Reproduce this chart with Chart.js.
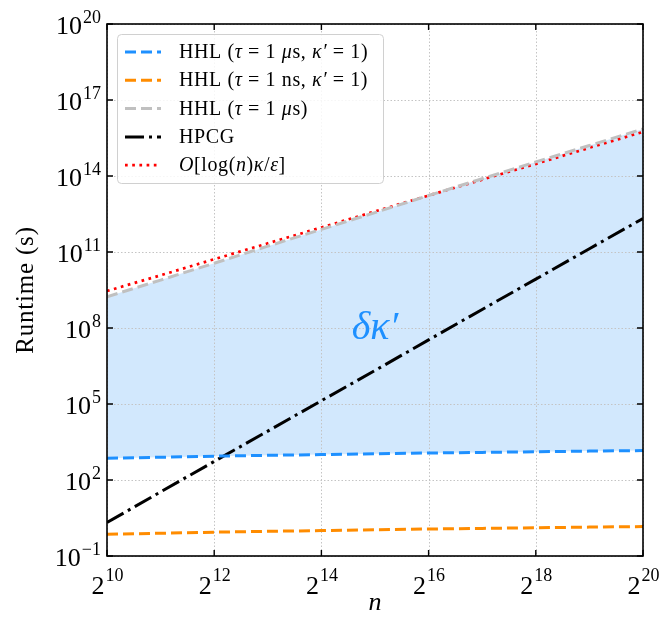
<!DOCTYPE html>
<html>
<head>
<meta charset="utf-8">
<script src="https://cdn.jsdelivr.net/npm/chart.js@4/dist/chart.umd.min.js"></script>
<style>
  html, body { margin: 0; padding: 0; background: #fff; }
  canvas { display: block; }
</style>
</head>
<body>
<canvas id="runtimeChart" width="662" height="618"></canvas>
<script>
// problem size n = 2^10 ... 2^20
const nValues = [1024, 2048, 4096, 8192, 16384, 32768, 65536, 131072, 262144, 524288, 1048576];

// runtimes in seconds
const hhlMicroK1 = [720, 790, 870, 940, 1010, 1090, 1160, 1230, 1300, 1380, 1450];
const hhlNanoK1 = [0.72, 0.79, 0.87, 0.94, 1.01, 1.09, 1.16, 1.23, 1.30, 1.38, 1.45];
const hhlMicro = [1.7e9, 7.8e9, 3.6e10, 1.7e11, 7.8e11, 3.6e12, 1.7e13, 7.8e13, 3.6e14, 1.6e15, 7.2e15];
const hpcg = [2.1, 34, 540, 8500, 1.35e5, 2.1e6, 3.4e7, 5.4e8, 8.5e9, 1.35e11, 2.1e12];
const bigO = [2.9e9, 1.2e10, 5.2e10, 2.2e11, 9.3e11, 4.0e12, 1.7e13, 7.2e13, 3.0e14, 1.3e15, 5.5e15];

// tick labels: 2^k on x, 10^k on y
const xTickExps = [10, 12, 14, 16, 18, 20];
const yTickExps = [-1, 2, 5, 8, 11, 14, 17, 20];

// legend texts, split into [text, italic] runs
const legendRuns = [
  [['HHL (', 0], ['τ', 1], [' = 1 ', 0], ['μ', 1], ['s, ', 0], ['κ′', 1], [' = 1)', 0]],
  [['HHL (', 0], ['τ', 1], [' = 1 ns, ', 0], ['κ′', 1], [' = 1)', 0]],
  [['HHL (', 0], ['τ', 1], [' = 1 ', 0], ['μ', 1], ['s)', 0]],
  [['HPCG', 0]],
  [['O', 1], ['[log(', 0], ['n', 1], [')', 0], ['κ', 1], ['/', 0], ['ε', 1], [']', 0]]
];

const SERIF = '"Liberation Serif", "DejaVu Serif", serif';

function toPoints(vals) {
  return nValues.map((n, i) => ({ x: n, y: vals[i] }));
}

function drawRuns(ctx, runs, x, y, size) {
  runs.forEach(([txt, it]) => {
    ctx.font = (it ? 'italic ' : '') + size + 'px ' + SERIF;
    ctx.fillText(txt, x, y);
    x += ctx.measureText(txt).width;
  });
}

function powerLabel(ctx, base, exp, x, y, raise, align) {
  ctx.font = '26px ' + SERIF;
  const w1 = ctx.measureText(base).width;
  ctx.font = '18px ' + SERIF;
  const w2 = ctx.measureText(exp).width;
  const x0 = align === 'right' ? x - w1 - w2 - 1 : x - (w1 + w2) / 2;
  ctx.textAlign = 'left';
  ctx.textBaseline = 'alphabetic';
  ctx.font = '26px ' + SERIF;
  ctx.fillText(base, x0, y);
  ctx.font = '18px ' + SERIF;
  ctx.fillText(exp, x0 + w1 + 1, y - raise);
}

const axesPlugin = {
  id: 'axesPlugin',
  beforeDatasetsDraw(chart) {
    // dotted grid, drawn over the filled band
    const { ctx, chartArea: a, scales } = chart;
    ctx.save();
    ctx.strokeStyle = '#c4c4c4';
    ctx.lineWidth = 1;
    ctx.setLineDash([1.5, 2]);
    xTickExps.forEach(e => {
      const px = Math.round(scales.x.getPixelForValue(Math.pow(2, e))) + 0.5;
      ctx.beginPath(); ctx.moveTo(px, a.top); ctx.lineTo(px, a.bottom); ctx.stroke();
    });
    yTickExps.forEach(e => {
      const py = Math.round(scales.y.getPixelForValue(Math.pow(10, e))) + 0.5;
      ctx.beginPath(); ctx.moveTo(a.left, py); ctx.lineTo(a.right, py); ctx.stroke();
    });
    ctx.restore();
  },
  afterDatasetsDraw(chart) {
    const { ctx, chartArea: a, scales } = chart;
    ctx.save();
    ctx.setLineDash([]);
    ctx.strokeStyle = '#000';
    ctx.lineWidth = 1.6;
    ctx.strokeRect(a.left, a.top, a.right - a.left, a.bottom - a.top);

    // inward ticks on all four sides
    ctx.lineWidth = 1.4;
    xTickExps.forEach(e => {
      const px = scales.x.getPixelForValue(Math.pow(2, e));
      ctx.beginPath();
      ctx.moveTo(px, a.bottom); ctx.lineTo(px, a.bottom - 6);
      ctx.moveTo(px, a.top); ctx.lineTo(px, a.top + 6);
      ctx.stroke();
    });
    yTickExps.forEach(e => {
      const py = scales.y.getPixelForValue(Math.pow(10, e));
      ctx.beginPath();
      ctx.moveTo(a.left, py); ctx.lineTo(a.left + 6, py);
      ctx.moveTo(a.right, py); ctx.lineTo(a.right - 6, py);
      ctx.stroke();
    });

    // tick labels
    ctx.fillStyle = '#000';
    xTickExps.forEach(e => {
      const px = scales.x.getPixelForValue(Math.pow(2, e));
      powerLabel(ctx, '2', String(e), px, a.bottom + 38, 13, 'center');
    });
    yTickExps.forEach(e => {
      const py = scales.y.getPixelForValue(Math.pow(10, e));
      powerLabel(ctx, '10', e < 0 ? '\u2212' + (-e) : String(e), a.left - 6, py + 10, 11, 'right');
    });

    // axis titles
    ctx.textAlign = 'center';
    ctx.textBaseline = 'middle';
    ctx.font = 'italic 26px ' + SERIF;
    ctx.fillText('n', (a.left + a.right) / 2, 603);
    ctx.save();
    ctx.translate(26, (a.top + a.bottom) / 2);
    ctx.rotate(-Math.PI / 2);
    ctx.font = '25px ' + SERIF;
    ctx.letterSpacing = '0.8px';
    ctx.fillText('Runtime (s)', 0, 0);
    ctx.restore();

    // label of the shaded band
    ctx.fillStyle = '#1e90ff';
    ctx.font = 'italic 40px ' + SERIF;
    ctx.fillText('δκ′', scales.x.getPixelForValue(Math.pow(2, 15)), scales.y.getPixelForValue(1e8));

    // legend
    const lx = 117, ly = 34, lw = 266, lh = 149;
    ctx.fillStyle = 'rgba(255,255,255,0.85)';
    ctx.strokeStyle = '#d0d0d0';
    ctx.lineWidth = 1;
    ctx.beginPath();
    ctx.roundRect(lx + 0.5, ly + 0.5, lw, lh, 4);
    ctx.fill();
    ctx.stroke();
    chart.data.datasets.forEach((ds, i) => {
      const yy = 52 + i * 28.3;
      ctx.strokeStyle = ds.borderColor;
      ctx.lineWidth = ds.borderWidth;
      ctx.lineCap = 'butt';
      ctx.setLineDash(ds.borderDash || []);
      ctx.beginPath(); ctx.moveTo(125, yy); ctx.lineTo(161, yy); ctx.stroke();
      ctx.setLineDash([]);
      ctx.fillStyle = '#000';
      ctx.textAlign = 'left';
      ctx.textBaseline = 'alphabetic';
      ctx.letterSpacing = '0.6px';
      drawRuns(ctx, legendRuns[i], 179, yy + 6, 20);
      ctx.letterSpacing = '0px';
    });
    ctx.restore();
  }
};

const ctx = document.getElementById('runtimeChart').getContext('2d');
new Chart(ctx, {
  type: 'line',
  data: {
    datasets: [
      { label: 'HHL (tau = 1 us, kappa\' = 1)', data: toPoints(hhlMicroK1), borderColor: '#1e90ff', borderWidth: 3, borderDash: [11, 5], fill: false },
      { label: 'HHL (tau = 1 ns, kappa\' = 1)', data: toPoints(hhlNanoK1), borderColor: '#ff8c00', borderWidth: 3, borderDash: [11, 5], fill: false },
      { label: 'HHL (tau = 1 us)', data: toPoints(hhlMicro), borderColor: '#c0c0c0', borderWidth: 3, borderDash: [11, 5], fill: 0, backgroundColor: '#d2e8fd' },
      { label: 'HPCG', data: toPoints(hpcg), borderColor: '#000000', borderWidth: 3, borderDash: [19, 5, 3, 5], fill: false },
      { label: 'O[log(n) kappa / eps]', data: toPoints(bigO), borderColor: '#ff0000', borderWidth: 2.7, borderDash: [2.7, 4.5], fill: false }
    ]
  },
  options: {
    responsive: false,
    animation: false,
    devicePixelRatio: 1,
    layout: { padding: { left: 107, right: 19, top: 24, bottom: 62 } },
    elements: { point: { radius: 0 }, line: { tension: 0, borderCapStyle: 'butt' } },
    plugins: {
      legend: { display: false },
      tooltip: { enabled: false },
      filler: { drawTime: 'beforeDatasetsDraw' }
    },
    scales: {
      x: { type: 'logarithmic', min: 1024, max: 1048576, display: false },
      y: { type: 'logarithmic', min: 0.1, max: 1e20, display: false }
    }
  },
  plugins: [axesPlugin]
});
</script>
</body>
</html>
